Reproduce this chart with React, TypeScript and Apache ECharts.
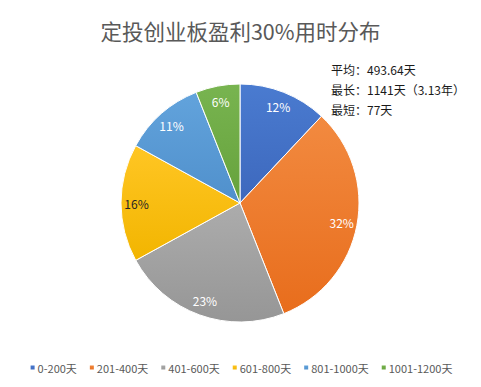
import React, { useEffect, useRef } from "react";
import * as echarts from "echarts";

const categories = ["0-200天", "201-400天", "401-600天", "601-800天", "801-1000天", "1001-1200天"];
const values = [12, 32, 23, 16, 11, 6];
const colorsTop = ["#4a7bd0", "#f28a40", "#acacac", "#ffc624", "#62a3dc", "#78b450"];
const colorsBottom = ["#3d68bd", "#e86d1c", "#969696", "#f2b500", "#5090cc", "#66a23c"];
const labelColors = ["#ffffff", "#ffffff", "#ffffff", "#262626", "#ffffff", "#ffffff"];
const notes = ["平均：493.64天", "最长：1141天（3.13年）", "最短：77天"];
const titleText = "定投创业板盈利30%用时分布";

const FONT = "'Noto Sans CJK SC', 'Microsoft YaHei', sans-serif";

export default function App() {
  const ref = useRef<HTMLDivElement>(null);
  useEffect(() => {
    if (!ref.current) return;
    const chart = echarts.init(ref.current, undefined, { renderer: "svg" });
    const fillData = categories.map((name, i) => ({
      name,
      value: values[i],
      itemStyle: {
        color: new echarts.graphic.LinearGradient(0, 0, 0, 1, [
          { offset: 0, color: colorsTop[i] },
          { offset: 1, color: colorsBottom[i] },
        ]),
      },
    }));
    const labelData = categories.map((name, i) => ({
      name,
      value: values[i],
      label: { color: labelColors[i] },
    }));
    chart.setOption({
      animation: false,
      backgroundColor: "#ffffff",
      color: colorsBottom,
      title: {
        text: titleText,
        left: "center",
        top: 15,
        textStyle: { fontFamily: FONT, fontSize: 21.5, fontWeight: "normal", color: "#595959" },
      },
      legend: {
        data: categories,
        bottom: 9,
        left: "center",
        icon: "rect",
        itemWidth: 6,
        itemHeight: 6,
        itemGap: 11,
        textStyle: { fontFamily: FONT, fontSize: 11, color: "#595959", padding: [0, 0, 0, -3] },
      },
      graphic: notes.map((t, i) => ({
        type: "text",
        left: 331,
        top: 63 + i * 20,
        style: { text: t, font: `12px ${FONT}`, fill: "#1a1a1a" },
      })),
      series: [
        {
          type: "pie",
          center: [240, 203],
          radius: [0, 119],
          startAngle: 90,
          clockwise: true,
          label: { show: false },
          labelLine: { show: false },
          itemStyle: { borderColor: "#ffffff", borderWidth: 1 },
          emphasis: { disabled: true },
          data: fillData,
        },
        {
          type: "pie",
          center: [240, 203],
          radius: [82, 119],
          startAngle: 90,
          clockwise: true,
          silent: true,
          legendHoverLink: false,
          itemStyle: { color: "rgba(0,0,0,0)", borderWidth: 0 },
          label: {
            show: true,
            position: "inside",
            formatter: "{c}%",
            fontFamily: FONT,
            fontSize: 12,
          },
          labelLine: { show: false },
          emphasis: { disabled: true },
          data: labelData,
        },
      ],
    });
    return () => chart.dispose();
  }, []);
  return <div ref={ref} style={{ width: 481, height: 387, margin: -8 }} />;
}
